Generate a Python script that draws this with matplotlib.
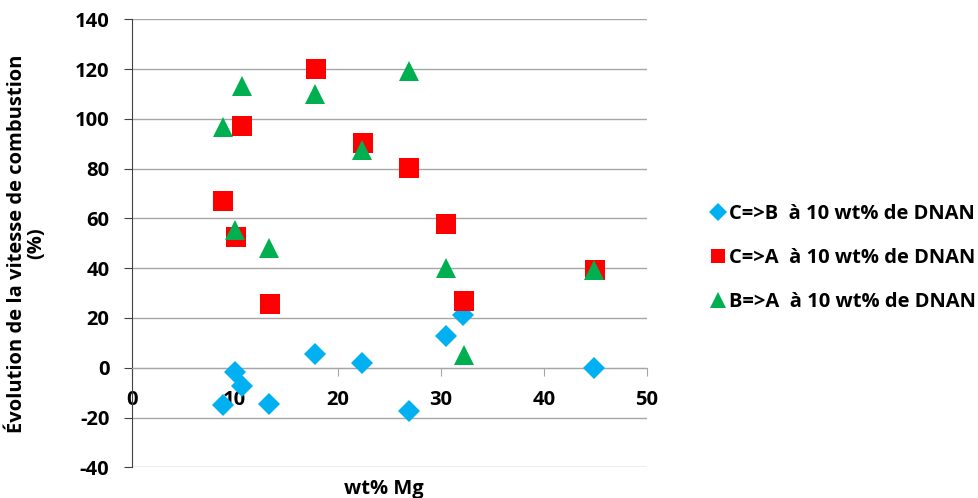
import matplotlib.pyplot as plt
from matplotlib.lines import Line2D

plt.rcParams['font.family'] = ['Open Sans', 'DejaVu Sans']
plt.rcParams['font.weight'] = 'bold'
plt.rcParams['axes.unicode_minus'] = False

# C=>B (blue diamonds)
cb_x = [8.9, 10.0, 10.7, 13.3, 17.8, 22.4, 26.9, 30.5, 32.2, 44.9]
cb_y = [-14.9, -1.5, -7.2, -14.6, 5.5, 2.1, -17.3, 12.9, 21.3, 0.1]

# C=>A (red squares)
ca_x = [8.9, 10.7, 10.1, 13.4, 17.9, 22.5, 26.9, 30.5, 32.3, 45.0]
ca_y = [66.9, 97.0, 52.5, 25.6, 120.1, 90.3, 80.3, 57.8, 26.9, 39.1]

# B=>A (green triangles)
ba_x = [8.9, 10.7, 10.0, 13.3, 17.8, 22.4, 26.9, 30.5, 32.3, 44.9]
ba_y = [96.6, 113.2, 55.5, 48.1, 110.0, 87.5, 119.4, 40.0, 5.2, 39.4]

labels = ["C=>B  à 10 wt% de DNAN", "C=>A  à 10 wt% de DNAN", "B=>A  à 10 wt% de DNAN"]
x_ticks = [0, 10, 20, 30, 40, 50]
y_ticks = [-40, -20, 0, 20, 40, 60, 80, 100, 120, 140]

fs = 14.5

fig = plt.figure(figsize=(9.79, 4.98), dpi=100)
ax = fig.add_axes([0.1345, 0.0616, 0.5261, 0.8996])

ax.plot(cb_x, cb_y, 'D', color='#00B0F0', ms=11.5, mew=0, zorder=3)
ax.plot(ca_x, ca_y, 's', color='#FF0000', ms=14, mew=0, zorder=4)
ax.plot(ba_x, ba_y, '^', color='#00B050', ms=15, mew=0, zorder=5)

ax.set_xlim(0, 50)
ax.set_ylim(-40, 140)
ax.set_xticks(x_ticks)
ax.set_yticks(y_ticks)

ax.grid(True, axis='y', color='#a6a6a6', lw=1)
ax.set_axisbelow(True)
ax.spines['top'].set_visible(False)
ax.spines['right'].set_visible(False)
ax.spines['bottom'].set_position(('data', 0))
ax.spines['bottom'].set_color('#a6a6a6')
ax.spines['left'].set_color('#404040')
ax.tick_params(axis='x', colors='#a6a6a6', labelcolor='black', direction='out',
               length=6, pad=10, labelsize=fs)
ax.tick_params(axis='y', colors='#404040', labelcolor='black', direction='out',
               length=6, pad=10, labelsize=fs)

ax.set_ylabel("Évolution de la vitesse de combustion\n(%)", fontsize=fs,
              fontweight='bold', linespacing=0.95)
ax.yaxis.set_label_coords(-0.165, 0.5)
fig.text(0.392, 0.018, "wt% Mg", ha='center', va='center', fontsize=fs, fontweight='bold')

handles = [
    Line2D([], [], ls='none', marker='D', color='#00B0F0', ms=9, mew=0),
    Line2D([], [], ls='none', marker='s', color='#FF0000', ms=10, mew=0),
    Line2D([], [], ls='none', marker='^', color='#00B050', ms=11, mew=0),
]
fig.legend(handles, labels, loc='center left', bbox_to_anchor=(0.718, 0.482),
           frameon=False, fontsize=fs, handlelength=0.7, handletextpad=0.2,
           labelspacing=1.2, borderaxespad=0)

fig.savefig("out.png", dpi=100)
